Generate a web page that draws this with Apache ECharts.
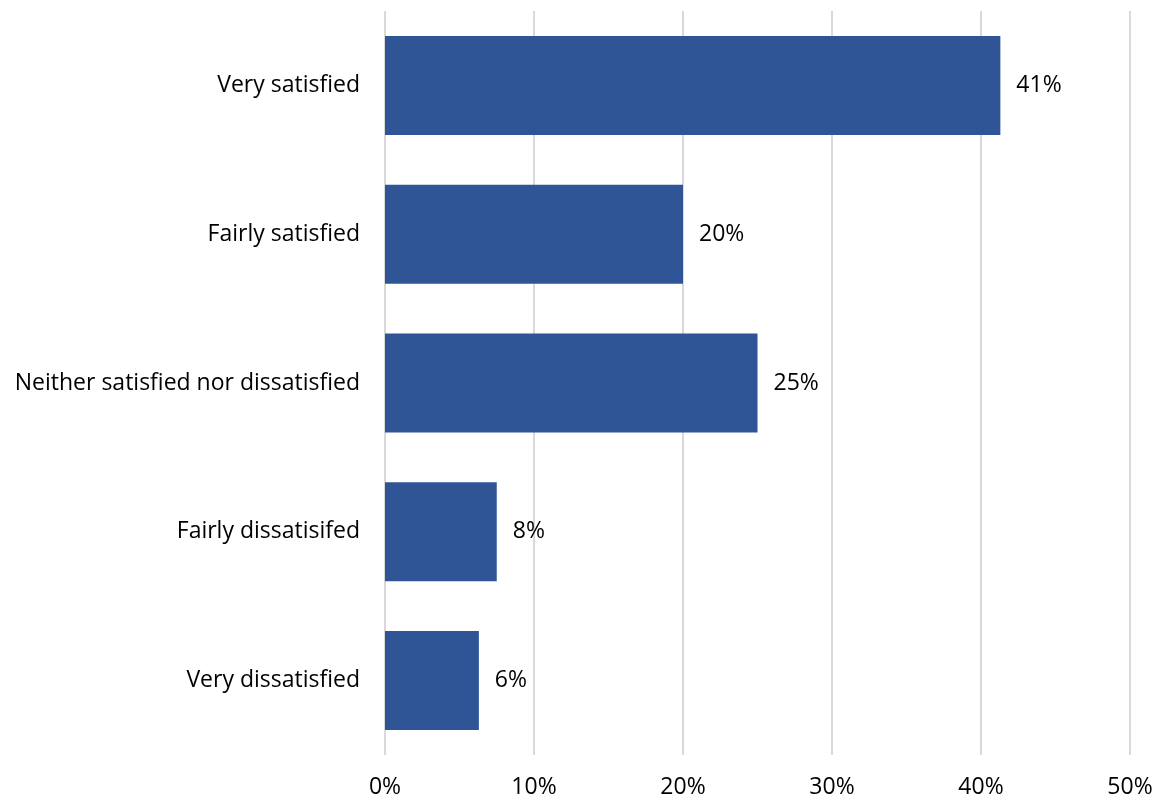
<!DOCTYPE html>
<html>
<head>
<meta charset="utf-8">
<script src="https://cdn.jsdelivr.net/npm/echarts@6/dist/echarts.min.js"></script>
<style>html,body{margin:0;padding:0;background:#fff;}#c{width:1159px;height:800px;}</style>
</head>
<body>
<div id="c"></div>
<script>
const categories = ['Very satisfied', 'Fairly satisfied', 'Neither satisfied nor dissatisfied', 'Fairly dissatisifed', 'Very dissatisfied'];
const values = [41.3, 20.0, 25.0, 7.5, 6.3];
const xTicks = [0, 10, 20, 30, 40, 50];

const FONT = 'Open Sans';
const chart = echarts.init(document.getElementById('c'), null, {renderer: 'canvas'});
chart.setOption({
  animation: false,
  backgroundColor: '#ffffff',
  grid: {left: 385, right: 29, top: 11, bottom: 45, containLabel: false},
  xAxis: {
    type: 'value', min: xTicks[0], max: xTicks[xTicks.length - 1], interval: 10,
    axisLine: {show: false}, axisTick: {show: false},
    splitLine: {show: true, lineStyle: {color: '#d9d9d9', width: 2}},
    axisLabel: {formatter: v => v + '%', color: '#000', fontFamily: FONT, fontSize: 23, margin: 21}
  },
  yAxis: {
    type: 'category', data: categories, inverse: true,
    axisLine: {show: false}, axisTick: {show: false},
    axisLabel: {color: '#000', fontFamily: FONT, fontSize: 23, margin: 25}
  },
  series: [{
    type: 'bar', data: values, barWidth: 99,
    itemStyle: {color: '#2F5597'},
    label: {show: true, position: 'right', distance: 16, formatter: p => Math.round(p.value) + '%',
      color: '#000', fontFamily: FONT, fontSize: 23}
  }]
});
</script>
</body>
</html>
